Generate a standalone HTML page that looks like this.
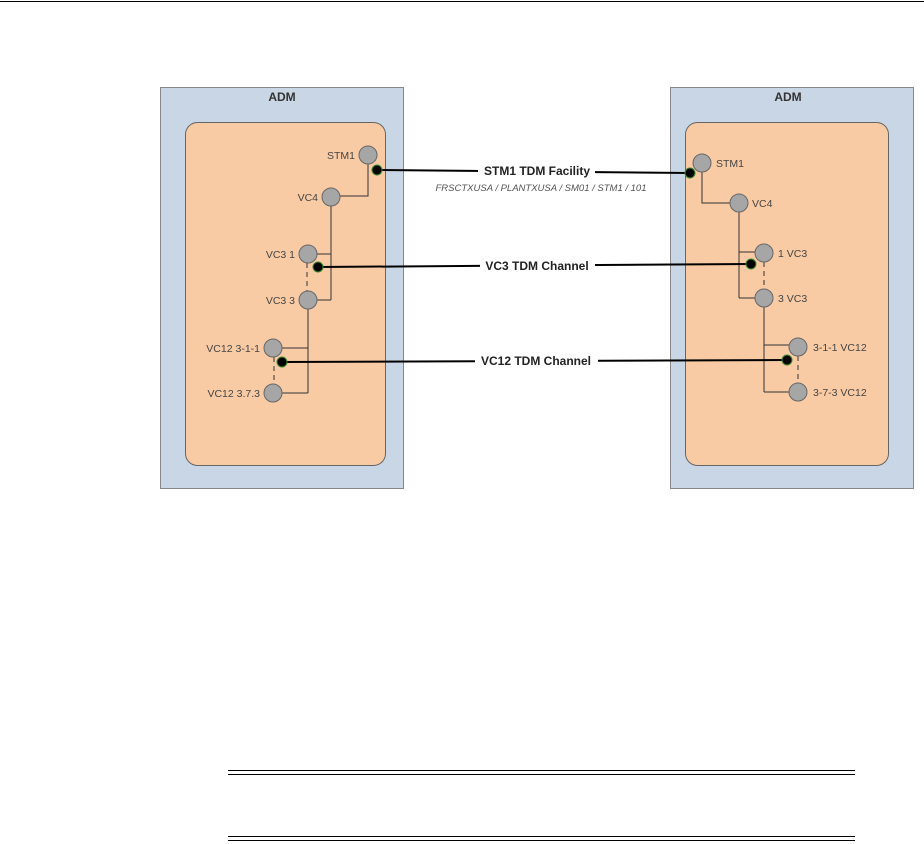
<!DOCTYPE html>
<html><head><meta charset="utf-8"><style>
html,body{margin:0;padding:0;background:#fff;}
svg{display:block;}
text{font-family:"Liberation Sans",sans-serif;}
</style></head><body>
<svg width="924" height="844" viewBox="0 0 924 844" xmlns="http://www.w3.org/2000/svg">
<line x1="0" y1="1.5" x2="924" y2="1.5" stroke="#000" stroke-width="1"/>
<rect x="160.5" y="87.5" width="243" height="401" fill="#c9d6e5" stroke="#888" stroke-width="1"/>
<rect x="185.5" y="122.5" width="200" height="343" rx="12" fill="#f9cba5" stroke="#666" stroke-width="1"/>
<text x="282" y="101" font-size="12" font-weight="bold" fill="#333" text-anchor="middle">ADM</text>
<rect x="670.5" y="87.5" width="243" height="401" fill="#c9d6e5" stroke="#888" stroke-width="1"/>
<rect x="685.5" y="122.5" width="203" height="343" rx="12" fill="#f9cba5" stroke="#666" stroke-width="1"/>
<text x="788" y="101" font-size="12" font-weight="bold" fill="#333" text-anchor="middle">ADM</text>

<g stroke="#333" stroke-width="1" fill="none">
<polyline points="368,164 368,196 340,196"/>
<line x1="331" y1="206" x2="331" y2="300"/>
<line x1="317" y1="254" x2="331" y2="254"/>
<line x1="317" y1="300" x2="331" y2="300"/>
<line x1="307" y1="263" x2="307" y2="291" stroke-dasharray="5,4"/>
<line x1="308" y1="309" x2="308" y2="393"/>
<line x1="282" y1="348" x2="308" y2="348"/>
<line x1="282" y1="393" x2="308" y2="393"/>
<line x1="274" y1="357" x2="274" y2="384" stroke-dasharray="5,4"/>
<polyline points="702,172 702,203 730,203"/>
<line x1="739" y1="212" x2="739" y2="298"/>
<line x1="739" y1="252" x2="755" y2="252"/>
<line x1="739" y1="298" x2="755" y2="298"/>
<line x1="764" y1="262" x2="764" y2="289" stroke-dasharray="5,4"/>
<line x1="764" y1="307" x2="764" y2="392"/>
<line x1="764" y1="345" x2="789" y2="345"/>
<line x1="764" y1="392" x2="789" y2="392"/>
<line x1="798" y1="356" x2="798" y2="383" stroke-dasharray="5,4"/>
</g>
<g stroke="#000" stroke-width="2">
<line x1="377" y1="170" x2="690" y2="173"/>
<line x1="318" y1="267" x2="751" y2="264"/>
<line x1="282" y1="362" x2="787" y2="360"/>
</g>
<g fill="#fff">
<rect x="478" y="163" width="117" height="15"/>
<rect x="480" y="258" width="115" height="14"/>
<rect x="475" y="353" width="123" height="14"/>
</g>
<g font-size="12" font-weight="bold" fill="#222" text-anchor="middle">
<text x="537" y="175">STM1 TDM Facility</text>
<text x="537" y="270">VC3 TDM Channel</text>
<text x="536" y="365">VC12 TDM Channel</text>
</g>
<text x="541" y="191" font-size="9.5" font-style="italic" fill="#555" text-anchor="middle">FRSCTXUSA / PLANTXUSA / SM01 / STM1 / 101</text>

<g fill="#a6a6a6" stroke="#666" stroke-width="1">
<circle cx="368" cy="155" r="9"/>
<circle cx="331" cy="197" r="9"/>
<circle cx="308" cy="254" r="9"/>
<circle cx="308" cy="300" r="9"/>
<circle cx="273" cy="348" r="9"/>
<circle cx="273" cy="393" r="9"/>
<circle cx="702" cy="163" r="9"/>
<circle cx="739" cy="203" r="9"/>
<circle cx="764" cy="253" r="9"/>
<circle cx="764" cy="298" r="9"/>
<circle cx="798" cy="347" r="9"/>
<circle cx="798" cy="392" r="9"/>
</g>
<g fill="#000" stroke="#3a8a2a" stroke-width="1">
<circle cx="377" cy="170" r="5"/>
<circle cx="318" cy="267" r="5"/>
<circle cx="282" cy="362" r="5"/>
<circle cx="690" cy="173" r="5"/>
<circle cx="751" cy="264" r="5"/>
<circle cx="787" cy="360" r="5"/>
</g>
<g font-size="10.5" fill="#444">
<text x="355" y="159" text-anchor="end">STM1</text>
<text x="318" y="201" text-anchor="end">VC4</text>
<text x="295" y="258" text-anchor="end">VC3 1</text>
<text x="295" y="304" text-anchor="end">VC3 3</text>
<text x="260" y="352" text-anchor="end">VC12 3-1-1</text>
<text x="260" y="397" text-anchor="end">VC12 3.7.3</text>
<text x="716" y="167">STM1</text>
<text x="752" y="207">VC4</text>
<text x="778" y="257">1 VC3</text>
<text x="778" y="302">3 VC3</text>
<text x="813" y="351">3-1-1 VC12</text>
<text x="813" y="396">3-7-3 VC12</text>
</g>
<g stroke="#000" stroke-width="1">
<line x1="228" y1="770.5" x2="855" y2="770.5"/>
<line x1="228" y1="774.5" x2="855" y2="774.5"/>
<line x1="228" y1="836.5" x2="855" y2="836.5"/>
<line x1="228" y1="840.5" x2="855" y2="840.5"/>
</g>
</svg>
</body></html>
